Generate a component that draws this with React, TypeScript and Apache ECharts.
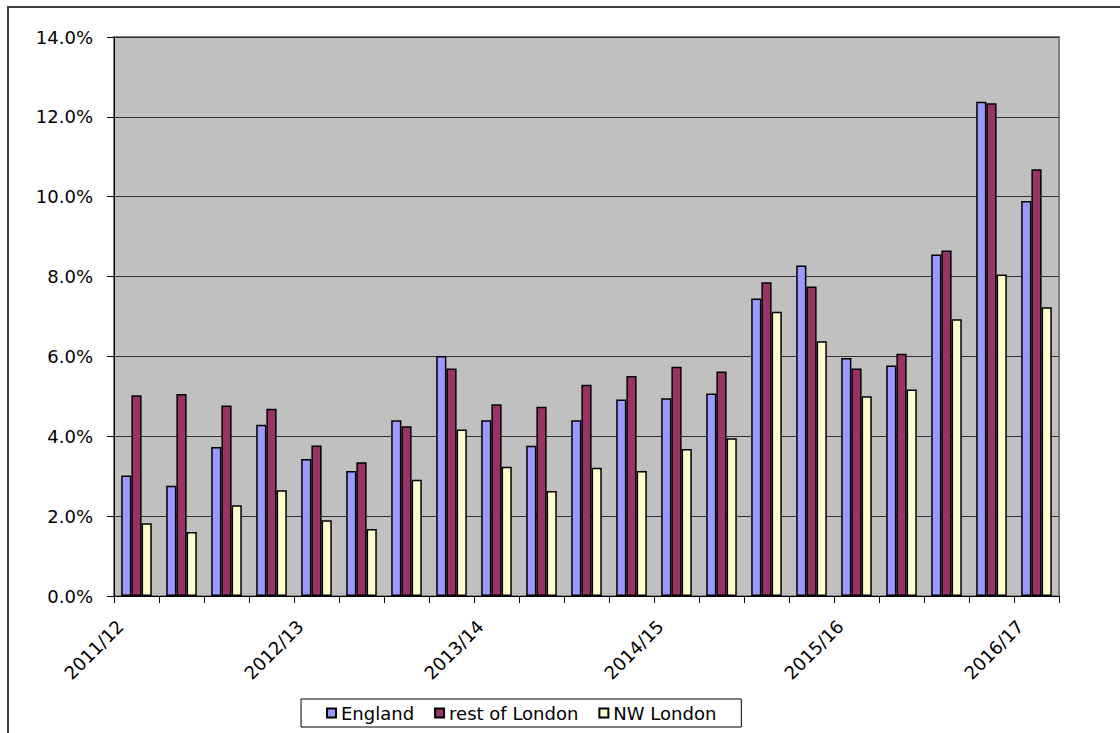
import React, { useEffect, useRef } from "react";
import * as echarts from "echarts";

// Quarterly periods, labelled on the axis by financial year (every 4th)
const categories = [
  "2011/12 Q1", "2011/12 Q2", "2011/12 Q3", "2011/12 Q4",
  "2012/13 Q1", "2012/13 Q2", "2012/13 Q3", "2012/13 Q4",
  "2013/14 Q1", "2013/14 Q2", "2013/14 Q3", "2013/14 Q4",
  "2014/15 Q1", "2014/15 Q2", "2014/15 Q3", "2014/15 Q4",
  "2015/16 Q1", "2015/16 Q2", "2015/16 Q3", "2015/16 Q4",
  "2016/17 Q1",
];

const seriesNames = ["England", "rest of London", "NW London"];

// Percentages
const england = [
  3.02, 2.76, 3.73, 4.29, 3.43, 3.13, 4.4, 6.01, 4.4, 3.76, 4.4,
  4.92, 4.95, 5.07, 7.45, 8.28, 5.96, 5.77, 8.55, 12.38, 9.89,
];
const restOfLondon = [
  5.03, 5.06, 4.77, 4.69, 3.77, 3.35, 4.25, 5.7, 4.8, 4.74, 5.29,
  5.51, 5.74, 5.62, 7.86, 7.75, 5.7, 6.07, 8.65, 12.34, 10.69,
];
const nwLondon = [
  1.82, 1.6, 2.27, 2.65, 1.9, 1.68, 2.91, 4.17, 3.24, 2.63, 3.21,
  3.13, 3.68, 3.95, 7.12, 6.38, 5.0, 5.17, 6.93, 8.05, 7.23,
];

const colors = ["#9999FF", "#993366", "#FFFFCC"];

const FONT = "DejaVu Sans";

export default function App() {
  const ref = useRef<HTMLDivElement>(null);

  useEffect(() => {
    if (!ref.current) return;
    const chart = echarts.init(ref.current, null, { renderer: "svg" });
    const values = [england, restOfLondon, nwLondon];

    chart.setOption({
      animation: false,
      backgroundColor: "#ffffff",
      graphic: [
        {
          type: "rect",
          shape: { x: 8, y: 7, width: 1200, height: 800 },
          style: { fill: "none", stroke: "#404040", lineWidth: 2 },
          silent: true,
        },
      ],
      grid: {
        left: 114,
        right: 61,
        top: 37,
        bottom: 137,
        show: true,
        backgroundColor: "#C0C0C0",
        borderColor: "#808080",
        borderWidth: 2,
      },
      legend: {
        data: seriesNames,
        left: 301,
        top: 699,
        padding: [5, 25, 5, 25],
        borderColor: "#000",
        borderWidth: 1,
        backgroundColor: "#fff",
        itemGap: 20,
        itemWidth: 9,
        itemHeight: 9,
        icon: "rect",
        textStyle: { fontFamily: FONT, fontSize: 18, color: "#000" },
      },
      xAxis: {
        type: "category",
        data: categories,
        boundaryGap: true,
        axisLine: { show: true, lineStyle: { color: "#000", width: 1 } },
        axisTick: { show: true, interval: 0, length: 7, lineStyle: { color: "#000" } },
        axisLabel: {
          interval: 3,
          rotate: 45,
          margin: 11,
          fontFamily: FONT,
          fontSize: 18,
          color: "#000",
          formatter: (v: string) => "{y|" + v.split(" ")[0] + "}",
          rich: {
            y: { fontFamily: FONT, fontSize: 18, color: "#000", padding: [0, 23, 0, 0] },
          },
        },
        splitLine: { show: false },
      },
      yAxis: {
        type: "value",
        min: 0,
        max: 14,
        interval: 2,
        axisLine: { show: true, lineStyle: { color: "#000", width: 1 } },
        axisTick: { show: true, length: 7, lineStyle: { color: "#000" } },
        axisLabel: {
          margin: 21,
          fontFamily: FONT,
          fontSize: 18,
          color: "#000",
          formatter: (v: number) => v.toFixed(1) + "%",
        },
        splitLine: { show: true, lineStyle: { color: "#333", width: 1 } },
      },
      series: seriesNames.map((name, i) => ({
        name,
        type: "bar",
        data: values[i],
        barGap: "0%",
        barCategoryGap: "32%",
        itemStyle: { color: colors[i], borderColor: "#000", borderWidth: 1.5 },
      })),
    });

    return () => chart.dispose();
  }, []);

  return (
    <div
      ref={ref}
      style={{ position: "absolute", left: 0, top: 0, width: 1120, height: 733 }}
    />
  );
}
